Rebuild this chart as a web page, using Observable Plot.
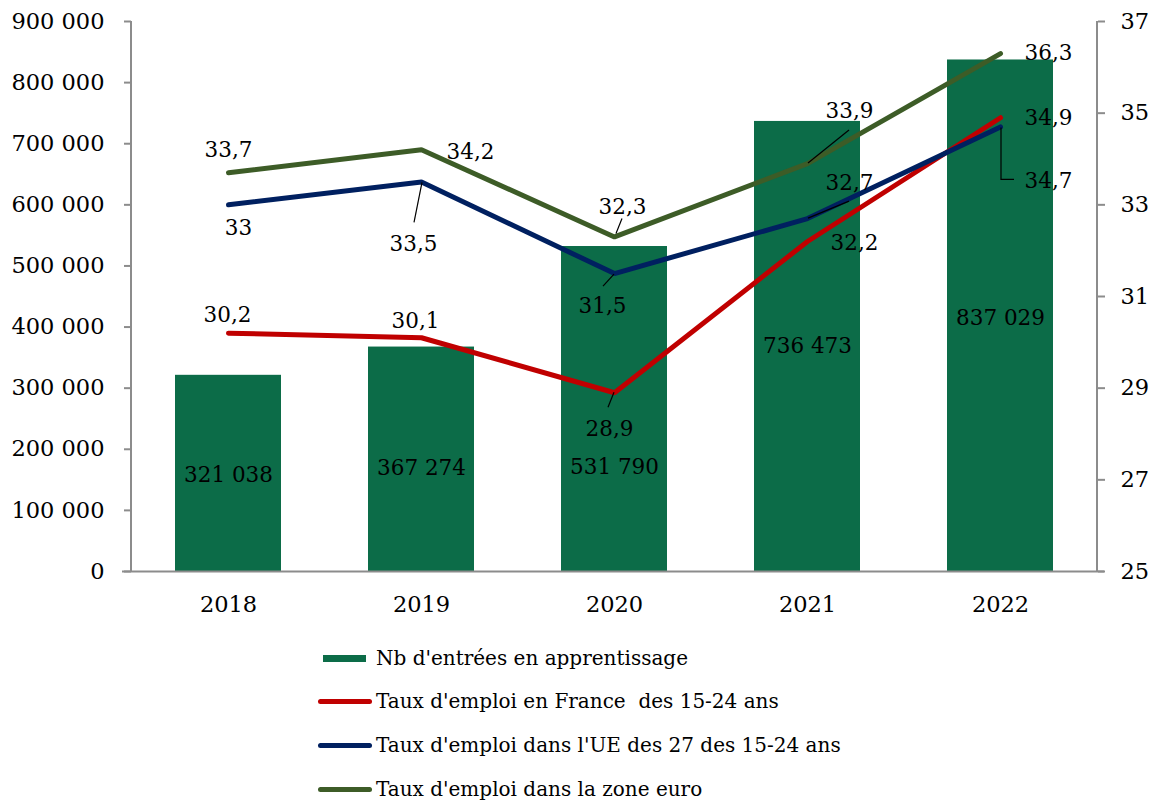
<!DOCTYPE html>
<html>
<head>
<meta charset="utf-8">
<script src="https://cdn.jsdelivr.net/npm/d3@7"></script>
<script src="https://cdn.jsdelivr.net/npm/@observablehq/plot@0.6"></script>
<style>
  html, body { margin: 0; padding: 0; background: #fff; }
  #wrap { position: relative; width: 1156px; height: 801px; overflow: hidden; font-family: "DejaVu Serif", serif; }
  #legend { position: absolute; left: 0; top: 0; width: 1156px; height: 801px; pointer-events: none; }
  .row { position: absolute; left: 318px; height: 30px; display: flex; align-items: center; font-size: 20px; color: #000; white-space: pre; }
  .sw { display: inline-block; margin-right: 4px; }
</style>
</head>
<body>
<div id="wrap"><div id="chart"></div><div id="legend"></div></div>
<script>
// ---- data ----
const years = ["2018", "2019", "2020", "2021", "2022"];
const entrees = [321038, 367274, 531790, 736473, 837029];
const tauxFrance = [30.2, 30.1, 28.9, 32.2, 34.9];
const tauxUE27 = [33, 33.5, 31.5, 32.7, 34.7];
const tauxZoneEuro = [33.7, 34.2, 32.3, 33.9, 36.3];
const leftTicks = [0, 100000, 200000, 300000, 400000, 500000, 600000, 700000, 800000, 900000];
const rightTicks = [25, 27, 29, 31, 33, 35, 37];
const seriesNames = [
  "Nb d'entrées en apprentissage",
  "Taux d'emploi en France  des 15-24 ans",
  "Taux d'emploi dans l'UE des 27 des 15-24 ans",
  "Taux d'emploi dans la zone euro"
];
const seriesColors = ["#0c6c48", "#c00000", "#002060", "#3d5c27"];

// ---- helpers ----
const leftMax = 900000, rMin = 25, rMax = 37;
const toY = r => (r - rMin) / (rMax - rMin) * leftMax;
const fr = d3.formatLocale({decimal: ",", thousands: "\u00a0", grouping: [3], currency: ["", "€"]});
const fmtInt = fr.format(",d");
const fmtRate = v => String(v).replace(".", ",");
const gray = "#8c8c8c";
const FS = 21.5;   // data labels
const AFS = 22.5;  // axis labels

// label offsets (pixels) per series, per year
const offFrance = [[-1, -18], [-6, -17], [-5, 36], [47, 2], [48, 0]];
const offUE = [[10, 23], [-8, 62], [-12, 33], [42, -35], [48, 54]];
const offZone = [[0, -23], [49, 2], [8, -30], [42, -52], [48, 0]];
const offBars = [2, 9, 58, 0, 2];

// leader lines: [series values, index, polyline pixel offsets]
const leaders = [
  [tauxZoneEuro, 2, [[2, -3], [8, -18]]],
  [tauxZoneEuro, 3, [[1, 0], [42, -33]]],
  [tauxUE27, 1, [[1, 1], [-7, 41]]],
  [tauxUE27, 2, [[0, 1], [-11, 13]]],
  [tauxUE27, 3, [[1, 0], [42, -17]]],
  [tauxUE27, 4, [[1, 1], [1, 53], [14, 53]]],
  [tauxFrance, 2, [[0, 0], [-6, 15]]]
];

function labelMarks(values, offs) {
  return values.map((v, i) => Plot.text([i], {
    x: [years[i]], y: [toY(v)], text: [fmtRate(v)],
    dx: offs[i][0], dy: offs[i][1], fill: "black", fontSize: FS
  }));
}

function leaderMark(index, scales) {
  const g = d3.create("svg:g").attr("stroke", "black").attr("stroke-width", 1.2).attr("fill", "none");
  const bw = scales.x.bandwidth ? scales.x.bandwidth() / 2 : 0;
  for (const [vals, i, pts] of leaders) {
    const px = scales.x(years[i]) + bw, py = scales.y(toY(vals[i]));
    g.append("path").attr("d", "M" + pts.map(([dx, dy]) => (px + dx) + "," + (py + dy)).join("L"));
  }
  return g.node();
}

// vertical axis lines at both frame edges
function axisLines(index, scales, values, dims) {
  const g = d3.create("svg:g").attr("stroke", gray).attr("stroke-width", 2).attr("fill", "none");
  const y0 = scales.y(0), y1 = scales.y(leftMax);
  for (const x of [dims.marginLeft, dims.width - dims.marginRight]) {
    g.append("line").attr("x1", x).attr("x2", x).attr("y1", y0).attr("y2", y1);
  }
  return g.node();
}

const lineOpts = {strokeWidth: 5, strokeLinecap: "round", strokeLinejoin: "miter"};

const chart = Plot.plot({
  width: 1156,
  height: 640,
  marginLeft: 131,
  marginRight: 59,
  marginTop: 21,
  marginBottom: 69,
  style: {fontFamily: "DejaVu Serif", fontSize: FS + "px", color: "black", background: "white"},
  x: {type: "band", domain: years, paddingInner: 0.45, paddingOuter: 0.225},
  y: {domain: [0, leftMax]},
  marks: [
    Plot.barY(years, {x: years, y: entrees, fill: seriesColors[0]}),
    Plot.ruleY([0], {stroke: gray, strokeWidth: 2, insetLeft: -9, insetRight: -7}),
    axisLines,
    Plot.axisY(leftTicks, {anchor: "left", tickFormat: fmtInt, tickSize: 7, tickPadding: 20, stroke: gray, fill: "black", label: null, strokeWidth: 2, fontSize: AFS}),
    Plot.axisY(rightTicks.map(toY), {anchor: "right", tickFormat: (d, i) => String(rightTicks[i]), tickSize: 7, tickPadding: 16, stroke: gray, fill: "black", label: null, strokeWidth: 2, fontSize: AFS}),
    Plot.axisX({tickSize: 0, tickPadding: 25, label: null, fill: "black", fontSize: AFS}),
    Plot.line(years, {x: years, y: tauxFrance.map(toY), stroke: seriesColors[1], ...lineOpts}),
    Plot.line(years, {x: years, y: tauxUE27.map(toY), stroke: seriesColors[2], ...lineOpts}),
    Plot.line(years, {x: years, y: tauxZoneEuro.map(toY), stroke: seriesColors[3], ...lineOpts}),
    leaderMark,
    ...entrees.map((v, i) => Plot.text([i], {x: [years[i]], y: [v / 2], text: [fmtInt(v)], dy: offBars[i], fill: "black", fontSize: FS})),
    ...labelMarks(tauxFrance, offFrance),
    ...labelMarks(tauxUE27, offUE),
    ...labelMarks(tauxZoneEuro, offZone)
  ]
});
document.getElementById("chart").appendChild(chart);

// ---- legend ----
const legend = document.getElementById("legend");
const rowCenters = [658, 701, 745, 789];
seriesNames.forEach((name, i) => {
  const row = document.createElement("div");
  row.className = "row";
  row.style.top = (rowCenters[i] - 15) + "px";
  const sw = document.createElement("span");
  sw.className = "sw";
  if (i === 0) {
    sw.style.cssText = `width:43px;height:7px;background:${seriesColors[0]};margin-left:5px;margin-right:10px;`;
  } else {
    sw.style.cssText = `width:54px;height:5px;border-radius:3px;background:${seriesColors[i]};margin-right:4px;`;
  }
  row.appendChild(sw);
  const t = document.createElement("span");
  t.textContent = name;
  row.appendChild(t);
  legend.appendChild(row);
});
</script>
</body>
</html>
